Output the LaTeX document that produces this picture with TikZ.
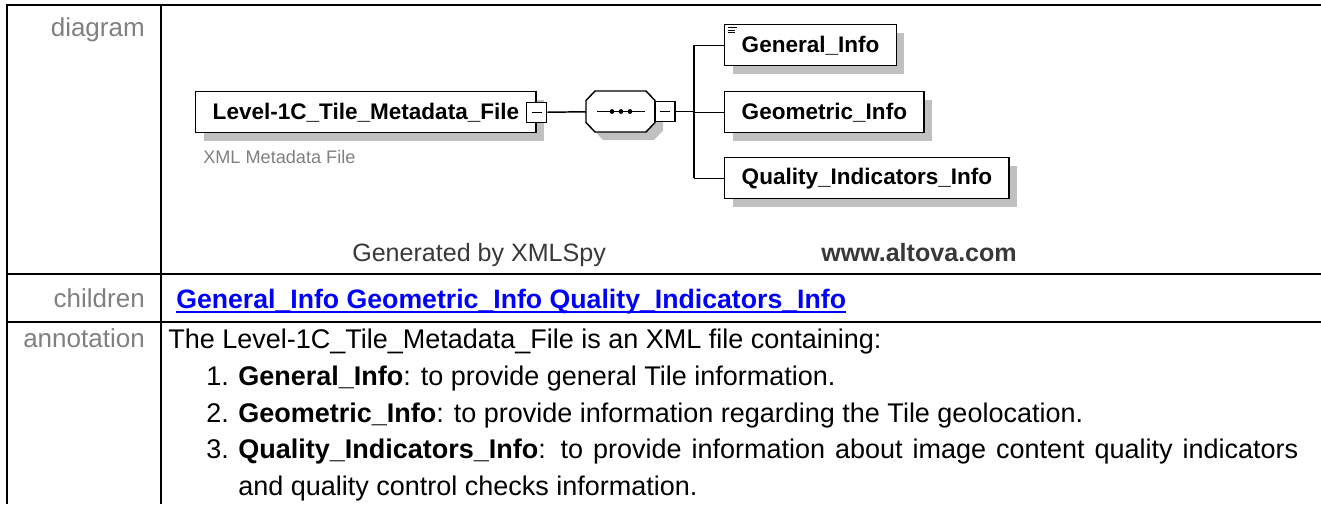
\documentclass[tikz,border=0pt]{standalone}
\usepackage{fontspec}
\setmainfont{Liberation Sans}
\usetikzlibrary{shadows}
\definecolor{lblgray}{HTML}{808080}
\definecolor{shadegray}{HTML}{C0C0C0}
\definecolor{gentext}{HTML}{383838}
\definecolor{linkblue}{HTML}{0000FF}
\tikzset{
  tableline/.style={line width=1.5pt},
  rowlabel/.style={anchor=base east, inner sep=0, text=lblgray, font=\fontsize{19.5}{23}\selectfont},
  bodytext/.style={anchor=base west, inner sep=0, font=\fontsize{20.25}{24}\selectfont},
  elem/.style={draw, line width=1.1pt, fill=white, inner xsep=12.75pt, inner ysep=0pt,
    minimum height=30.75pt, anchor=north west, font=\bfseries\fontsize{16.9}{20}\selectfont,
    drop shadow={shadow xshift=6pt, shadow yshift=-6pt, fill=shadegray, opacity=1}},
  minusbox/.style={draw, fill=white, line width=0.8pt, minimum size=15pt, inner sep=0pt,
    path picture={\draw[line width=0.7pt] ([xshift=-4pt]path picture bounding box.center) -- ([xshift=4pt]path picture bounding box.center);}},
  conn/.style={line width=1.1pt},
  footer/.style={inner sep=0, text=gentext, font=\fontsize{18.8}{22}\selectfont},
}
\begin{document}
\begin{tikzpicture}[x=0.75pt,y=-0.75pt]
\useasboundingbox (0,0) rectangle (1321,504);
% table
\draw[tableline] (7,5) -- (1321,5);
\draw[tableline] (7,4.25) -- (7,504);
\draw[tableline] (161,5) -- (161,504);
\draw[tableline] (7,274) -- (1321,274);
\draw[tableline] (7,322) -- (1321,322);
% row labels
\node[rowlabel] (lbldiag) at (145,36) {diagram};
\node[rowlabel] (lblchild) at (145,307) {children};
\node[rowlabel] (lblann) at (145,347) {annotation};
% diagram
\node[elem] (main) at (195,91) {Level-1C\_Tile\_Metadata\_File\hspace{9pt}};
\node[minusbox] (mainsq) at (main.east) {};
\node[anchor=west, inner sep=0, text=lblgray, font=\fontsize{13.6}{16}\selectfont] (doc) at (203,157) {XML Metadata File};
% sequence compositor
\node[inner sep=0pt, minimum width=51.75pt, minimum height=30.75pt, anchor=north west] (seq) at (586,91) {};
\fill[shadegray] (603,99) -- (654,99) -- (663,108.5) -- (663,130.5) -- (654,140) -- (603,140) -- (594,130.5) -- (594,108.5) -- cycle;
\draw[line width=1.1pt, fill=white] (595,91) -- (646,91) -- (655,100.5) -- (655,122.5) -- (646,132) -- (595,132) -- (586,122.5) -- (586,100.5) -- cycle;
\draw[line width=0.9pt] (597,111.5) -- (645,111.5);
\fill (612,111.5) circle (1.8pt);
\fill (621,111.5) circle (1.8pt);
\fill (630,111.5) circle (1.8pt);
\node[minusbox] (seqsq) at (665,111.5) {};
% children
\node[elem] (gen) at (724,24) {General\_Info};
\node[elem] (geo) at (724,91) {Geometric\_Info};
\node[elem] (qual) at (724,157) {Quality\_Indicators\_Info};
\draw[line width=0.6pt] (728,27.5) -- (737,27.5);
\draw[line width=0.6pt] (728,30) -- (735,30);
\draw[line width=0.6pt] (728,32.5) -- (735,32.5);
% connectors
\coordinate (trunk) at (694,111.5);
\draw[conn] (mainsq.east) -- (seq.west);
\draw[conn] (seqsq.east) -- (trunk);
\draw[conn] (trunk |- gen.west) -- (trunk |- qual.west);
\draw[conn] (trunk |- gen.west) -- (gen.west);
\draw[conn] (trunk |- geo.west) -- (geo.west);
\draw[conn] (trunk |- qual.west) -- (qual.west);
% footer
\node[footer, anchor=base west] (genby) at (352,261) {Generated by XMLSpy};
\node[footer, anchor=base east, font=\bfseries\fontsize{18.8}{22}\selectfont] (altova) at (1017,261) {www.altova.com};
% children row
\node[anchor=base west, inner sep=0, text=linkblue, font=\bfseries\fontsize{20}{24}\selectfont] (link) at (176,308) {General\_Info Geometric\_Info Quality\_Indicators\_Info};
\draw[linkblue, line width=1.4pt] ([yshift=-3.2pt]link.base west) -- ([yshift=-3.2pt]link.base east);
% annotation
\node[bodytext] (a0) at (168,348) {The Level-1C\_Tile\_Metadata\_File is an XML file containing:};
\node[bodytext] (n1) at (206,385) {1.};
\node[bodytext] (a1) at (238,385) {\textbf{General\_Info}: to provide general Tile information.};
\node[bodytext] (n2) at (206,422) {2.};
\node[bodytext] (a2) at (238,422) {\textbf{Geometric\_Info}: to provide information regarding the Tile geolocation.};
\node[bodytext] (n3) at (206,458) {3.};
\node[bodytext] (a3) at (238,458) {\makebox[795pt][s]{\textbf{Quality\_Indicators\_Info}: to provide information about image content quality indicators}};
\node[bodytext] (a4) at (238,495) {and quality control checks information.};
\end{tikzpicture}
\end{document}
